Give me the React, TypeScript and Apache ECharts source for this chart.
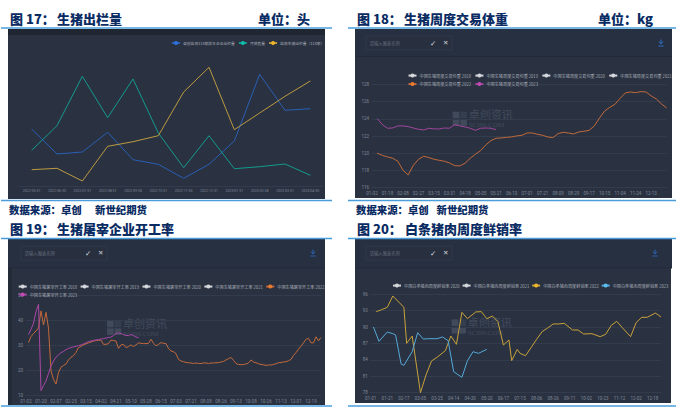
import React, { useEffect, useRef } from "react";
import * as echarts from "echarts";

// Figure 17
const months17 = ["2022-05-31","2022-06-30","2022-07-31","2022-08-31","2022-09-30","2022-10-31","2022-11-30","2022-12-31","2023-01-31","2023-02-28","2023-03-31","2023-04-30"];
const sample118 = [57,32,34,53.7,26.3,21.7,7.7,21.7,45,111.7,75.7,77.3];
const monthlySales = [35.7,60.3,109.7,68.3,107,53,18.3,50.3,17.3,19.3,22,10.7];
const monitored = [16.3,17.7,5,39.7,44.3,50.3,94,118.7,56.3,73,89.7,105];

// Figure 18
const ticks18 = ["01-02","01-18","02-08","02-27","03-15","03-31","04-18","05-05","05-21","06-10","07-01","07-21","08-09","08-29","09-17","10-15","11-04","11-24","12-13"];
const weight2022 = [null,120,119.76,119.57,119.42,119.07,118.02,117.48,118.6,119.3,119.65,119.49,119.3,119.18,119.07,118.87,118.56,118.53,118.84,119.42,119.88,120.3,120.96,121.46,121.74,121.77,121.85,121.89,122.01,122.08,122.35,122.35,122.2,122.08,121.89,121.81,122.28,122.43,122.35,122.24,122.47,122.55,122.66,123.17,124.09,124.9,125.33,125.68,126.38,127,127.11,127.03,127.15,127.11,126.65,126.3,125.72,125.25];
const weight2023 = [null,124.02,123.32,122.9,122.93,123.17,123.17,123.09,122.93,122.78,122.7,122.9,122.82,122.82,122.93,122.9,123.32,123.17,123.05,122.9,122.66,122.9,122.93,122.9,122.74];

// Figure 19
const ticks19 = ["01-02","01-20","02-07","02-25","03-15","04-02","04-21","05-10","05-28","06-15","07-03","07-21","08-08","08-26","09-13","10-08","10-26","11-13","12-01","12-19"];
const rate2022 = [null,31.1,33.5,34.7,35.7,36.9,43.7,38.1,43.1,36.8,19.8,16.5,14.6,19.3,21.3,22,22.6,24.2,25.3,25.9,27.2,29.1,29.6,30.2,30.6,31,31.3,31.7,31.9,32,32.1,30.4,30.4,30.7,32.1,31.9,31.7,28.8,30.2,30.4,29.1,29.5,30.2,29.5,30.2,31,30.8,30.7,30.7,30.8,32.4,30.8,29.8,30.4,31.1,30.8,30.7,28.8,27.7,27.5,26.7,24.4,23.8,23.5,23.2,23.1,23,22.8,23,22.8,22.8,23,23,22.8,23,23,23.1,23.1,23.4,23.6,24.2,24.7,25.2,24,22.8,22.4,22.3,22.4,22.6,23,24.2,23.4,23.1,22.7,22.4,22.3,22,22.2,22.2,22.4,22.7,23.1,23.2,23.4,23.5,23.9,24.4,26,27.1,28.5,29.7,31,32.4,32.8,31,31,33.4,31.8,33.1];
const rate2023 = [null,34.3,36.4,38.8,43.4,46.3,12,14,15.9,18.8,21.8,23.8,25.3,26.2,27.1,27.6,28.3,28.8,29.1,29.4,29.6,29.9,30.2,30.6,31,31.5,31.7,32,32.1,32.3,32.5,32.7,32.9,33.1,33.3,33.9,34.7,34.9,34.7,34.3,33.9,33.9,34.3,33.9,33.3,33.1];

// Figure 20: [position on the tick row, value]
const ticks20 = ["01-01","01-21","02-17","03-05","03-25","04-14","04-30","05-20","06-17","07-15","08-06","08-26","09-11","10-02","10-23","11-12","12-02","12-18"];
const fresh2022 = [[2,92.83],[4,93.19],[6,93.62],[8,95.69],[12,93.62],[13,87.03],[15,88.37],[18,78],[20,81.23],[22,83.8],[24,84.47],[27,85.69],[29,88.37],[31,86.85],[33,92.7],[35,91.54],[38,92.77],[40,92.83],[42,91.54],[44,92.03],[46,91],[48,86.72],[50,87.64],[51,83.86],[53,85.93],[54,85.2],[56,84.77],[58,86.24],[60,87.76],[62,89.17],[64,89.84],[66,90.57],[68,90.57],[70,90.69],[73,89.47],[75,89.47],[77,88.74],[80,88.8],[83,88.25],[85,88.68],[87,90.32],[89,91.06],[91,89.9],[94,88.25],[96,90.81],[98,91.79],[100,91.79],[103,92.58],[105,91.85]];
const fresh2023 = [[1,90.02],[3,87.4],[6,89.1],[8,88.8],[9,88.56],[11,83.25],[12,83],[15,85.5],[17,88.98],[19,87.82],[21,87.88],[24,87.88],[26,88.19],[28,87.52],[30,81.84],[33,80.81],[35,83.86],[37,85.5],[39,85.2],[42,85.93]];

const CJK = "'Noto Sans CJK SC'";
const NAVY = "#0a2c63";
const RULE = "#4a9cda";
const PANEL = "#2a3242";
const HEAD = "#273040";
const BORDER = "#333c4d";
const MARK = "#414a5b";
const GREY = "#d4d7db";
const LEG = "#a7acb5";
const AXIS = "#7f8796";

const fan = (t: string[], n: number, len: number) =>
  t.flatMap((l) => [l, ...Array(n - 1).fill("")]).concat(Array(len).fill("")).slice(0, len);

const txt = (text: string, x: number, y: number, size: number, fill: string, weight = "normal", family = CJK, z = 5) => ({
  type: "text", x, y, z, silent: true,
  style: { text, fill, font: `${weight} ${size}px ${family}`, textVerticalAlign: "middle" },
});
const rect = (x: number, y: number, w: number, h: number, fill: string, z: number, stroke?: string) => ({
  type: "rect", z, silent: true, shape: { x, y, width: w, height: h }, style: { fill, stroke },
});
const heading = (no: string, name: string, x: number, y: number, nameX: number) => [
  txt(no, x, y, 13, NAVY, "900"),
  txt(name, nameX, y, 13, NAVY, "900"),
];
const source = (x1: number, x2: number, y: number) => [
  txt("数据来源：卓创", x1, y, 10.4, NAVY, "900"),
  txt("新世纪期货", x2, y, 10.4, NAVY, "900"),
];
const toolbar = (px: number, py: number, ph: number, bx: number, tick: number, cross: number, dl: number, dlc: string) => [
  rect(px, py, 317, ph, HEAD, -3),
  { type: "line", z: -2, silent: true, shape: { x1: px, y1: py + ph, x2: px + 317, y2: py + ph }, style: { stroke: "#242b38", lineWidth: 1 } },
  rect(bx, py + 7, 86, 14, "#283040", -2, "#303949"),
  txt("请输入图表名称", bx + 3.5, py + 14, 4.4, "#626a78"),
  txt("✓", tick - 3, py + 14, 7.5, "#d5d8dd", "normal", "'DejaVu Sans'"),
  txt("✕", cross - 3, py + 14, 6.5, "#d5d8dd", "normal", "'DejaVu Sans'"),
  { type: "polyline", z: 5, silent: true, shape: { points: [[dl - 2, py + 12.5], [dl, py + 15], [dl + 2, py + 12.5]] }, style: { stroke: dlc, fill: "none", lineWidth: 1 } },
  { type: "line", z: 5, silent: true, shape: { x1: dl, y1: py + 10.5, x2: dl, y2: py + 15 }, style: { stroke: dlc, lineWidth: 1 } },
  { type: "line", z: 5, silent: true, shape: { x1: dl - 2.6, y1: py + 17, x2: dl + 2.6, y2: py + 17 }, style: { stroke: dlc, lineWidth: 1 } },
];
const watermark = (x: number, y: number) => [
  rect(x, y, 6.6, 6.6, MARK, -1),
  rect(x, y + 7.6, 6.6, 6.6, MARK, -1),
  rect(x + 7.6, y + 7.6, 6.6, 6.6, MARK, -1),
  rect(x + 7.6, y, 6.6, 6.6, "#353e4d", -1),
  txt("卓创资讯", x + 16, y + 2.4, 11, MARK, "normal", CJK, -1),
  txt("SCI99.COM", x + 16, y + 13.5, 7, MARK, "normal", "'Liberation Serif'", -1),
];
const ruleLine = (x1: number, x2: number, y: number) => ({
  type: "line", z: 5, silent: true, shape: { x1, y1: y, x2, y2: y }, style: { stroke: RULE, lineWidth: 1.4 },
});

const legendOf = (data: string[], left: number, top: number, itemGap: number, fontSize = 4.15) => ({
  data, left, top, itemGap, itemWidth: 8, itemHeight: 5, padding: 0, selectedMode: false,
  textStyle: { color: LEG, fontSize, fontFamily: CJK, padding: [0, 0, 0, -2] },
});

const grid = (left: number, right: number, top: number, bottom: number) => ({ left, right, top, bottom, containLabel: false });
const xAx = (gridIndex: number, data: string[], interval: number, boundaryGap: boolean, fontSize = 4.5) => ({
  type: "category", gridIndex, data, boundaryGap,
  axisTick: { show: false },
  axisLine: { lineStyle: { color: BORDER, width: 1 } },
  axisLabel: { interval, fontSize, color: AXIS, margin: 3, fontFamily: "Roboto" },
  splitLine: { show: false },
});
const yAx = (gridIndex: number, min: number, max: number, interval: number, show = true) => ({
  type: "value", gridIndex, min, max, interval,
  axisLine: { show: false }, axisTick: { show: false },
  axisLabel: { show, fontSize: 4.5, color: AXIS, margin: 3, fontFamily: "Roboto" },
  splitLine: { show, lineStyle: { color: BORDER, width: 1 } },
});
const line = (name: string, idx: number, data: any[], stroke: string, dot: string) => ({
  type: "line", name, data, xAxisIndex: idx, yAxisIndex: idx,
  symbol: "circle", showSymbol: false, connectNulls: false, smooth: false, z: 3,
  lineStyle: { color: stroke, width: 1 }, itemStyle: { color: dot },
});
const empty = (name: string, idx: number) => line(name, idx, [], GREY, GREY);

const names17 = ["卓创监测118家样本企业出栏量", "月销售量", "监测生猪出栏量（118家）"];
const years = ["2018", "2019", "2020", "2021", "2022", "2023"];
const names18 = years.map((y) => `中国生猪周度交易均重 ${y}`);
const names19 = years.map((y) => `中国生猪屠宰开工率 ${y}`);
const names20 = ["2020", "2021", "2022", "2023"].map((y) => `中国白条猪肉周度鲜销率 ${y}`);

export default function App() {
  const ref = useRef<HTMLDivElement>(null);
  useEffect(() => {
    document.body.style.margin = "0";
    const chart = echarts.init(ref.current!, null, { renderer: "svg" });
    chart.setOption({
      animation: false,
      backgroundColor: "#ffffff",
      textStyle: { fontFamily: CJK },
      grid: [grid(19, 355, 66, 222), grid(372, 11.3, 84.3, 220.3), grid(26, 357, 295, 12.3), grid(370.7, 17, 294.3, 15.3)],
      xAxis: [
        xAx(0, months17, 0, true, 3.5),
        xAx(1, fan(ticks18, 3, 58), 2, false),
        xAx(2, fan(ticks19, 6, 119), 5, false),
        xAx(3, fan(ticks20, 6, 106), 5, false),
      ],
      yAxis: [yAx(0, 0, 120, 24, false), yAx(1, 116, 128, 2), yAx(2, 10, 50, 10), yAx(3, 78, 96, 3)],
      legend: [
        legendOf(names17, 171, 41, 3, 3.8),
        legendOf(names18.slice(0, 4), 407.5, 73.5, 3.4),
        legendOf(names18.slice(4), 407.5, 82, 3.4),
        legendOf(names19.slice(0, 5), 17.7, 284.5, 2.5),
        legendOf(names19.slice(5), 17.7, 292.5, 2.5),
        legendOf(names20, 392, 283.5, 1.9),
      ],
      series: [
        line(names17[0], 0, sample118, "#2a5fb4", "#2f72dc"),
        line(names17[1], 0, monthlySales, "#159a8e", "#12bdae"),
        line(names17[2], 0, monitored, "#bb9a40", "#eeb42c"),
        ...names18.slice(0, 4).map((n) => empty(n, 1)),
        line(names18[4], 1, weight2022, "#c2693a", "#ee7a30"),
        line(names18[5], 1, weight2023, "#a0459c", "#c24cb4"),
        ...names19.slice(0, 4).map((n) => empty(n, 2)),
        line(names19[4], 2, rate2022, "#c2693a", "#ee7a30"),
        line(names19[5], 2, rate2023, "#a847a4", "#c24cb4"),
        ...names20.slice(0, 2).map((n) => empty(n, 3)),
        line(names20[2], 3, fresh2022, "#c9a23a", "#f0b82c"),
        line(names20[3], 3, fresh2023, "#55a9d8", "#5cc0f0"),
      ],
      graphic: [{
        elements: [
          rect(8, 29, 317, 170, PANEL, -3),
          rect(8, 29, 317, 6, "#1f2631", -2),
          rect(355, 29, 317, 169, PANEL, -3),
          rect(8, 239, 317, 166, PANEL, -3),
          rect(355, 239, 316, 164, PANEL, -3),
          ...toolbar(355, 29, 27.5, 366, 433, 446, 661, "#2f6fc5"),
          ...toolbar(8, 239, 29, 21, 88, 101, 313, "#2a62b0"),
          ...toolbar(355, 239, 29, 366, 433, 446, 655, "#2a62b0"),
          rect(8, 268, 4, 137, "#242b38", -2),
          ...watermark(452.7, 111.7),
          ...watermark(107, 320.7),
          ...watermark(451.7, 319.3),
          ...heading("图 17：", "生猪出栏量", 10, 18, 57),
          txt("单位：头", 258, 18, 13, NAVY, "900"),
          ...heading("图 18：", "生猪周度交易体重", 357, 18, 404),
          txt("单位：kg", 598, 18, 13, NAVY, "900"),
          ...heading("图 19：", "生猪屠宰企业开工率", 10, 228, 57),
          ...heading("图 20：", "白条猪肉周度鲜销率", 357, 228, 405),
          ...source(9, 95, 209),
          ...source(356, 436.5, 209),
          ruleLine(1, 332, 28), ruleLine(348, 676, 28),
          ruleLine(1, 332, 200.5), ruleLine(348, 676, 200.5),
          ruleLine(1, 332, 238.5), ruleLine(348, 676, 238.5),
          ruleLine(1, 332, 406), ruleLine(348, 676, 406),
        ],
      }],
    });
    return () => chart.dispose();
  }, []);
  return <div ref={ref} style={{ position: "fixed", left: 0, top: 0, width: 678, height: 408, overflow: "hidden" }} />;
}
